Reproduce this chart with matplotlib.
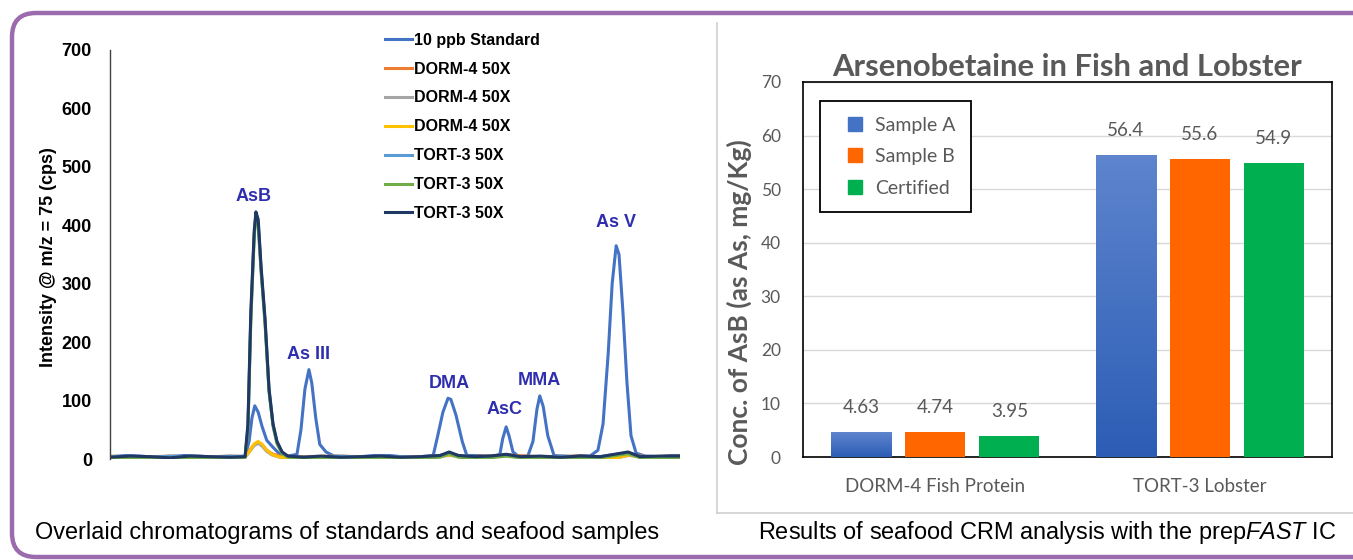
import matplotlib
matplotlib.use("Agg")
import matplotlib.pyplot as plt
import numpy as np
from matplotlib.lines import Line2D
from matplotlib.patches import FancyBboxPatch
from matplotlib.transforms import IdentityTransform

plt.rcParams["mathtext.fontset"] = "custom"
plt.rcParams["mathtext.it"] = "Liberation Sans:italic"
plt.rcParams["mathtext.rm"] = "Liberation Sans"

W, H = 1353, 560

# ---- chromatogram traces (time in min, intensity in cps) ----
std_t = [0.0, 0.3, 0.53, 0.8, 1.05, 1.3, 1.58, 1.85, 2.11, 2.37, 2.44, 2.49, 2.54, 2.60, 2.67,
         2.75, 2.86, 2.98, 3.12, 3.28, 3.35, 3.42, 3.49, 3.54, 3.61, 3.68, 3.79, 3.93, 4.15,
         4.39, 4.65, 4.91, 5.2, 5.44, 5.67, 5.75, 5.84, 5.93, 5.98, 6.07, 6.18, 6.26, 6.49,
         6.75, 6.84, 6.89, 6.95, 7.00, 7.07, 7.16, 7.33, 7.42, 7.49, 7.54, 7.60, 7.68, 7.79,
         8.07, 8.25, 8.42, 8.56, 8.65, 8.74, 8.81, 8.88, 8.93, 9.00, 9.07, 9.14, 9.23, 9.39,
         9.65, 9.85, 10.0]
std_i = [4, 6, 5, 3, 4, 6, 5, 3, 4, 5, 30, 70, 91, 80, 55,
         32, 20, 8, 5, 8, 50, 120, 153, 130, 70, 25, 12, 5, 3,
         4, 6, 6, 3, 4, 6, 40, 80, 104, 102, 75, 30, 6, 6,
         4, 8, 35, 55, 40, 12, 5, 5, 30, 85, 108, 90, 40, 6,
         4, 6, 5, 15, 60, 180, 300, 365, 350, 250, 130, 40, 10, 5,
         4, 6, 6]

dorm_t = [0.0, 0.4, 0.7, 1.1, 1.4, 1.8, 2.1, 2.37, 2.46, 2.53, 2.60, 2.67, 2.75, 2.84, 2.98,
          3.3, 4.0, 4.8, 5.6, 5.95, 6.3, 6.95, 7.5, 8.2, 8.9, 9.1, 9.4, 10.0]
dorm1_i = [5, 3, 4, 5, 3, 4, 5, 4, 16, 25, 28, 24, 15, 9, 5,
           4, 5, 3, 4, 8, 4, 7, 4, 5, 3, 8, 4, 5]
dorm2_i = [3, 2, 3, 4, 2, 3, 4, 3, 14, 23, 27, 22, 13, 7, 3,
           2, 3, 2, 3, 6, 3, 5, 2, 3, 2, 6, 3, 3]
dorm3_i = [2, 3, 2, 3, 2, 3, 2, 3, 15, 26, 30, 25, 15, 8, 3,
           2, 3, 2, 2, 7, 2, 6, 2, 3, 2, 7, 2, 3]

tort_t = [0.0, 0.35, 0.7, 1.05, 1.4, 1.75, 2.11, 2.37, 2.42, 2.47, 2.53, 2.56, 2.60, 2.65, 2.72,
          2.79, 2.86, 2.93, 3.02, 3.12, 3.4, 3.7, 4.05, 4.4, 4.75, 5.1, 5.45, 5.79, 5.95, 6.11,
          6.4, 6.67, 6.95, 7.2, 7.55, 7.9, 8.25, 8.6, 9.09, 9.3, 9.65, 10.0]
tort1_i = [4, 5, 3, 5, 4, 3, 5, 4, 55, 240, 385, 420, 405, 325, 235,
           118, 58, 28, 11, 5, 3, 4, 5, 3, 5, 4, 3, 6, 11, 6,
           4, 5, 8, 4, 3, 5, 4, 4, 11, 4, 3, 5]
tort2_i = [1, 2, 1, 2, 1, 2, 1, 2, 50, 235, 380, 417, 400, 322, 232,
           115, 56, 26, 9, 3, 1, 2, 2, 1, 2, 2, 1, 3, 9, 3,
           1, 2, 5, 2, 1, 2, 2, 2, 9, 2, 1, 2]
tort3_i = [3, 5, 4, 2, 5, 4, 3, 4, 60, 250, 390, 423, 410, 330, 240,
           120, 60, 30, 12, 5, 3, 5, 3, 4, 5, 3, 4, 6, 12, 6,
           4, 5, 8, 4, 5, 3, 5, 4, 12, 4, 5, 5]

trace_labels = ["10 ppb Standard", "DORM-4 50X", "DORM-4 50X", "DORM-4 50X",
                "TORT-3 50X", "TORT-3 50X", "TORT-3 50X"]
trace_colors = ["#4472C4", "#ED7D31", "#A5A5A5", "#FFC000", "#5B9BD5", "#70AD47", "#1F3864"]

peak_names = ["AsB", "As III", "DMA", "AsC", "MMA", "As V"]
peak_t = [2.52, 3.49, 5.95, 6.93, 7.54, 8.88]
peak_y = [450, 178, 130, 85, 135, 405]

# ---- bar chart ----
groups = ["DORM-4 Fish Protein", "TORT-3 Lobster"]
sample_a = [4.63, 56.4]
sample_b = [4.74, 55.6]
certified = [3.95, 54.9]
bar_labels = ["Sample A", "Sample B", "Certified"]
bar_colors = ["#4472C4", "#FF6600", "#00B050"]


def fx(px):
    return px / W


def fy(py):
    return 1 - py / H


fig = plt.figure(figsize=(W / 100, H / 100), dpi=100)

# purple rounded frame (pixel coordinates, origin bottom-left)
frame = FancyBboxPatch((12, H - 557), 1385 - 12, 557 - 13,
                       boxstyle="round,pad=0,rounding_size=24", transform=IdentityTransform(),
                       fill=False, edgecolor="#9C6BAE", linewidth=3.2)
fig.add_artist(frame)

# grey frame of right panel
fig.add_artist(Line2D([fx(717), fx(717)], [fy(23), fy(513)], transform=fig.transFigure,
                      color="#CFCFCF", lw=1.2))
fig.add_artist(Line2D([fx(717), fx(1353)], [fy(513), fy(513)], transform=fig.transFigure,
                      color="#CFCFCF", lw=1.2))

# ---------------- left: chromatograms ----------------
ax1 = fig.add_axes([fx(110), fy(459), fx(680) - fx(110), fy(50) - fy(459)])
series = [(std_t, std_i), (dorm_t, dorm1_i), (dorm_t, dorm2_i), (dorm_t, dorm3_i),
          (tort_t, tort1_i), (tort_t, tort2_i), (tort_t, tort3_i)]
for (t, y), lab, col in zip(series, trace_labels, trace_colors):
    ax1.plot(t, y, color=col, lw=2.2, label=lab, solid_joinstyle="round")

ax1.set_xlim(0, 10)
ax1.set_ylim(0, 700)
ax1.set_yticks(range(0, 701, 100))
ax1.set_xticks([])
for s in ["top", "right", "bottom"]:
    ax1.spines[s].set_visible(False)
ax1.spines["left"].set_color("#404040")
ax1.spines["left"].set_linewidth(1.0)
ax1.tick_params(axis="y", length=0, pad=13)
for lbl in ax1.get_yticklabels():
    lbl.set_fontfamily("Liberation Sans")
    lbl.set_fontweight("bold")
    lbl.set_fontsize(13)
ax1.set_ylabel("Intensity @ m/z = 75 (cps)", fontfamily="Liberation Sans", fontweight="bold",
               fontsize=13)
ax1.yaxis.set_label_coords((57 - 110) / 570, (459 - 257) / 409)

for name, t, y in zip(peak_names, peak_t, peak_y):
    ax1.text(t, y, name, color="#2E2EAE", fontfamily="Liberation Sans", fontweight="bold",
             fontsize=13, ha="center", va="center")

leg1 = ax1.legend(loc="upper left", bbox_to_anchor=(0.468, 1.062), frameon=False,
                  prop={"family": "Liberation Sans", "weight": "bold", "size": 11.5},
                  handlelength=1.7, handletextpad=0.15, labelspacing=0.87, borderpad=0)
for ln in leg1.get_lines():
    ln.set_linewidth(2.2)

fig.text(fx(35), fy(533), "Overlaid chromatograms of standards and seafood samples",
         fontfamily="Liberation Sans", fontsize=16.9, ha="left", va="center")

# ---------------- right: bar chart ----------------
ax2 = fig.add_axes([fx(803), fy(457), fx(1332) - fx(803), fy(82) - fy(457)])
x = np.arange(len(groups))
offsets = [-0.28, 0.0, 0.28]
width = 0.227
grey = "#595959"
cmap = matplotlib.colors.LinearSegmentedColormap.from_list("g", ["#2C5DB5", "#5E85CE"])
grad = np.linspace(0, 1, 256).reshape(-1, 1)
for vals, off, col, lab in zip([sample_a, sample_b, certified], offsets, bar_colors, bar_labels):
    bars = ax2.bar(x + off, vals, width, color=col, label=lab, zorder=3)
    for b, v in zip(bars, vals):
        ax2.text(b.get_x() + b.get_width() / 2, v + 3.0, f"{v}", ha="center", va="bottom",
                 color=grey, fontfamily="Lato", fontsize=13.5)
    if lab == "Sample A":
        for b in bars:
            im = ax2.imshow(grad, extent=[b.get_x(), b.get_x() + b.get_width(), 0, b.get_height()],
                            origin="lower", aspect="auto", cmap=cmap, zorder=3.5)
            im.set_clip_path(b)

ax2.set_xlim(-0.5, 1.5)
ax2.set_ylim(0, 70)
ax2.set_yticks(range(0, 71, 10))
ax2.set_xticks(x)
ax2.set_xticklabels(groups)
ax2.grid(axis="y", color="#D9D9D9", lw=1.0, zorder=0)
ax2.set_axisbelow(True)
for s in ax2.spines.values():
    s.set_color("black")
    s.set_linewidth(1.2)
ax2.tick_params(length=0, colors=grey, labelsize=12.5)
ax2.tick_params(axis="y", pad=16)
ax2.tick_params(axis="x", labelsize=13.5, pad=15)
for lbl in ax2.get_xticklabels() + ax2.get_yticklabels():
    lbl.set_fontfamily("Lato")
ax2.set_ylabel("Conc. of AsB (as As, mg/Kg)", fontfamily="Lato", fontweight="bold", fontsize=19,
               color=grey)
ax2.yaxis.set_label_coords((752 - 803) / 529, (457 - 302) / 375)
ax2.set_title("Arsenobetaine in Fish and Lobster", fontfamily="Lato", fontweight="bold",
              fontsize=22.3, color=grey, pad=4)

handles = [Line2D([], [], marker="s", ls="none", color=c, markersize=10) for c in bar_colors]
leg2 = ax2.legend(handles, bar_labels, loc="upper left", bbox_to_anchor=(0.032, 0.949),
                  borderaxespad=0, fancybox=False, framealpha=1, edgecolor="black",
                  prop={"family": "Lato", "size": 14}, labelcolor=grey,
                  labelspacing=0.75, borderpad=0.8, handletextpad=0.05)
leg2.get_frame().set_linewidth(1.3)

fig.text(fx(758), fy(533), "Results of seafood CRM analysis with the prep$\\mathit{FAST}$ IC",
         fontfamily="Liberation Sans", fontsize=16.9, ha="left", va="center")

fig.savefig("out.png", dpi=100)
